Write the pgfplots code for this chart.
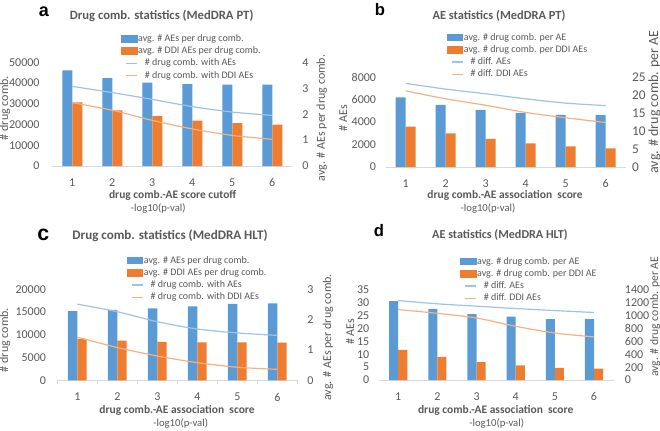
\documentclass[border=0pt]{standalone}
\usepackage{pgfplots}
\pgfplotsset{compat=1.18}
\usepackage{fontspec}
\setmainfont{Carlito}
\newfontfamily\letterfont{Liberation Sans}
\definecolor{cblue}{HTML}{5B9BD5}
\definecolor{corange}{HTML}{ED7D31}
\definecolor{lblue}{HTML}{9DC3E6}
\definecolor{lorange}{HTML}{F4B183}
\definecolor{txtgray}{HTML}{595959}
\definecolor{axgray}{HTML}{D9D9D9}
\pgfplotsset{
  base/.style={scale only axis, xmin=0.5, xmax=6.5, ymin=0,
    tick style={draw=none}, major tick length=0pt,
    tick label style={font=\fontsize{9}{10}\selectfont, text=txtgray},
    /pgf/number format/assume math mode=true, /pgf/number format/1000 sep={},
    scaled y ticks=false, y axis line style={draw=none}},
  leftax/.style={base, axis x line*=bottom, axis y line*=left,
    x axis line style={draw=axgray, line width=0.7pt}, xtick={1,2,3,4,5,6},
    x tick label style={yshift=-6pt}},
  rightax/.style={base, axis x line=none, axis y line*=right,
    legend cell align=left,
    legend style={anchor=north west, draw=none, fill=none, inner sep=0pt,
      font=\fontsize{7.5}{8.5}\selectfont, text=txtgray, row sep=0pt,
      nodes={inner sep=0.6pt, text height=6pt, text depth=2pt}}},
}
\newcommand\barimg[1]{\addlegendimage{legend image code/.code={\fill[#1] (0pt,-2.5pt) rectangle (11.5pt,2.5pt);}}}
\tikzset{
  ttl/.style={font=\bfseries\fontsize{9.5}{11}\selectfont, text=txtgray, anchor=base},
  xlab/.style={font=\bfseries\fontsize{8.6}{10}\selectfont, text=txtgray, anchor=base},
  loglab/.style={font=\fontsize{8}{10}\selectfont, text=txtgray, anchor=base},
  ylab/.style={font=\fontsize{9}{10}\selectfont, text=txtgray, rotate=90},
}
\begin{document}
\begin{tikzpicture}
\path[use as bounding box] (0pt,0pt) rectangle (495pt,322.5pt);

% ---------- panel a ----------
\begin{axis}[leftax, at={(39.2pt,198pt)}, anchor=south west, width=180pt, height=77.8pt,
  ymax=50000, ytick={0,10000,20000,30000,40000,50000}, y tick label style={xshift=-6pt}]
\addplot[ybar, bar width=7.5pt, bar shift=-3.75pt, fill=cblue, draw=none] coordinates {(1,46100) (2,42300) (3,40200) (4,39500) (5,39200) (6,39200)};
\addplot[ybar, bar width=7.5pt, bar shift=3.75pt, fill=corange, draw=none] coordinates {(1,30700) (2,26800) (3,24100) (4,21900) (5,20700) (6,19900)};
\end{axis}
\begin{axis}[rightax, at={(39.2pt,198pt)}, anchor=south west, width=180pt, height=77.8pt,
  ymax=4, ytick={0,1,2,3,4}, y tick label style={xshift=4pt}, legend style={at={(0.286,1.29)}}]
\barimg{cblue}\addlegendentry{avg. \# AEs per drug comb.}
\barimg{corange}\addlegendentry{avg. \# DDI AEs per drug comb.}
\addplot[lblue, line width=0.9pt, smooth, legend image code/.code={\draw[lblue,line width=0.9pt] (3.5pt,0pt)--(11.5pt,0pt);}] coordinates {(1,3.07) (2,2.83) (3,2.57) (4,2.29) (5,2.08) (6,1.95)};
\addlegendentry{\hspace{5pt}\# drug comb. with AEs}
\addplot[lorange, line width=0.9pt, smooth, legend image code/.code={\draw[lorange,line width=0.9pt] (3.5pt,0pt)--(11.5pt,0pt);}] coordinates {(1,2.44) (2,2.15) (3,1.76) (4,1.43) (5,1.18) (6,1.03)};
\addlegendentry{\hspace{5pt}\# drug comb. with DDI AEs}
\end{axis}

% ---------- panel b ----------
\begin{axis}[leftax, at={(289.3pt,197.25pt)}, anchor=south west, width=180pt, height=67.3pt,
  ymax=8000, ytick={0,2000,4000,6000,8000}, y tick label style={xshift=-3.75pt}]
\addplot[ybar, bar width=7.5pt, bar shift=-3.75pt, fill=cblue, draw=none] coordinates {(1,6200) (2,5540) (3,5100) (4,4830) (5,4650) (6,4620)};
\addplot[ybar, bar width=7.5pt, bar shift=3.75pt, fill=corange, draw=none] coordinates {(1,3600) (2,3000) (3,2500) (4,2100) (5,1850) (6,1650)};
\end{axis}
\begin{axis}[rightax, at={(289.3pt,197.25pt)}, anchor=south west, width=180pt, height=67.3pt,
  ymax=25, ytick={0,5,10,15,20,25}, tick label style={font=\fontsize{10}{12}\selectfont},
  y tick label style={xshift=1.2pt}, legend style={at={(0.254,1.516)}}]
\barimg{cblue}\addlegendentry{avg. \# drug comb. per AE}
\barimg{corange}\addlegendentry{avg. \# drug comb. per DDI AEs}
\addplot[lblue, line width=0.9pt, smooth, legend image code/.code={\draw[lblue,line width=0.9pt] (3.5pt,0pt)--(11.5pt,0pt);}] coordinates {(1,23.3) (2,21.7) (3,20.4) (4,19.0) (5,17.8) (6,17.1)};
\addlegendentry{\hspace{5pt}\# diff. AEs}
\addplot[lorange, line width=0.9pt, smooth, legend image code/.code={\draw[lorange,line width=0.9pt] (3.5pt,0pt)--(11.5pt,0pt);}] coordinates {(1,21.2) (2,19.0) (3,17.2) (4,15.2) (5,13.7) (6,12.4)};
\addlegendentry{\hspace{5pt}\# diff. DDI AEs}
\end{axis}

% ---------- panel c ----------
\begin{axis}[leftax, at={(43pt,37.3pt)}, anchor=south west, width=180pt, height=68.25pt,
  ymax=20000, ytick={0,5000,10000,15000,20000}, y tick label style={xshift=-5pt},
  extra x ticks={0.5,1.5,2.5,3.5,4.5,5.5,6.5}, extra x tick labels={},
  extra x tick style={major tick length=3pt, tick align=outside, tick style={draw=axgray, line width=0.6pt}}]
\addplot[ybar, bar width=7pt, bar shift=-3.5pt, fill=cblue, draw=none] coordinates {(1,15200) (2,15450) (3,15800) (4,16250) (5,16800) (6,16900)};
\addplot[ybar, bar width=7pt, bar shift=3.5pt, fill=corange, draw=none] coordinates {(1,9100) (2,8700) (3,8450) (4,8350) (5,8350) (6,8250)};
\end{axis}
\begin{axis}[rightax, at={(43pt,37.3pt)}, anchor=south west, width=180pt, height=68.25pt,
  ymax=3, ytick={0,1,2,3}, y tick label style={xshift=4pt}, legend style={at={(0.289,1.388)}}]
\barimg{cblue}\addlegendentry{avg. \# AEs per drug comb.}
\barimg{corange}\addlegendentry{avg. \# DDI AEs per drug comb.}
\addplot[lblue, line width=0.9pt, smooth, legend image code/.code={\draw[lblue,line width=0.9pt] (3.5pt,0pt)--(11.5pt,0pt);}] coordinates {(1,2.51) (2,2.26) (3,1.93) (4,1.69) (5,1.56) (6,1.48)};
\addlegendentry{\hspace{5pt}\# drug comb. with AEs}
\addplot[lorange, line width=0.9pt, smooth, legend image code/.code={\draw[lorange,line width=0.9pt] (3.5pt,0pt)--(11.5pt,0pt);}] coordinates {(1,1.42) (2,1.08) (3,0.80) (4,0.58) (5,0.43) (6,0.36)};
\addlegendentry{\hspace{5pt}\# drug comb. with DDI AEs}
\end{axis}

% ---------- panel d ----------
\begin{axis}[leftax, at={(284pt,37.5pt)}, anchor=south west, width=176.2pt, height=67.5pt,
  ymax=35, ytick={0,5,10,15,20,25,30,35}, y tick label style={xshift=-3.5pt}]
\addplot[ybar, bar width=6.8pt, bar shift=-3.4pt, fill=cblue, draw=none] coordinates {(1,30.7) (2,27.7) (3,25.6) (4,24.6) (5,23.7) (6,23.7)};
\addplot[ybar, bar width=6.8pt, bar shift=3.4pt, fill=corange, draw=none] coordinates {(1,11.7) (2,9.0) (3,7.0) (4,5.7) (5,4.7) (6,4.4)};
\end{axis}
\begin{axis}[rightax, at={(284pt,37.5pt)}, anchor=south west, width=176.2pt, height=67.5pt,
  ymax=1400, ytick={0,200,400,600,800,1000,1200,1400}, y tick label style={xshift=5pt},
  legend style={at={(0.346,1.389)}}]
\barimg{cblue}\addlegendentry{avg. \# drug comb. per AE}
\barimg{corange}\addlegendentry{avg. \# drug comb. per DDI AE}
\addplot[lblue, line width=0.9pt, smooth, legend image code/.code={\draw[lblue,line width=0.9pt] (3.5pt,0pt)--(11.5pt,0pt);}] coordinates {(1,1235) (2,1185) (3,1148) (4,1112) (5,1080) (6,1050)};
\addlegendentry{\hspace{5pt}\# diff. AEs}
\addplot[lorange, line width=0.9pt, smooth, legend image code/.code={\draw[lorange,line width=0.9pt] (3.5pt,0pt)--(11.5pt,0pt);}] coordinates {(1,1096) (2,1037) (3,964) (4,835) (5,731) (6,670)};
\addlegendentry{\hspace{5pt}\# diff. DDI AEs}
\end{axis}

% ---------- texts (px coordinates, origin top-left) ----------
\begin{scope}[shift={(0pt,322.5pt)}, x=0.75pt, y=-0.75pt]
\node[font=\letterfont\bfseries\fontsize{13.5}{14}\selectfont, anchor=base] at (44,16) {a};
\node[ttl] at (161.7,19) {Drug comb. statistics (MedDRA PT)};
\node[xlab] at (172.7,198.3) {drug comb.-AE score cutoff};
\node[loglab] at (158.3,211.7) {-log10(p-val)};
\node[ylab] at (5,108) {\# drug comb.};
\node[ylab] at (321.7,118) {avg. \# AEs per drug comb.};

\node[font=\letterfont\bfseries\fontsize{12.5}{14}\selectfont, anchor=base] at (380,15) {b};
\node[ttl, font=\bfseries\fontsize{9.3}{11}\selectfont] at (499,19.3) {AE statistics (MedDRA PT)};
\node[xlab] at (505,198.3) {drug comb.-AE association\ \ score};
\node[loglab] at (488,211) {-log10(p-val)};
\node[ylab] at (343,118) {\# AEs};
\node[ylab, font=\fontsize{10.5}{12}\selectfont, inner sep=0pt] at (654.5,102) {avg. \# drug comb. per AE};

\node[font=\letterfont\bfseries\fontsize{16}{17}\selectfont, anchor=base] at (43.3,240) {c};
\node[ttl, font=\bfseries\fontsize{9.8}{11}\selectfont] at (170,239) {Drug comb. statistics (MedDRA HLT)};
\node[xlab] at (177,413.3) {drug comb.-AE association\ \ score};
\node[loglab] at (180.7,426) {-log10(p-val)};
\node[ylab] at (5,340) {\# drug comb.};
\node[ylab] at (328,337.3) {avg. \# AEs per drug comb.};

\node[font=\letterfont\bfseries\fontsize{12.5}{14}\selectfont, anchor=base] at (379,236.7) {d};
\node[ttl, font=\bfseries\fontsize{9.1}{11}\selectfont] at (500,238.3) {AE statistics (MedDRA HLT)};
\node[xlab] at (495.7,413.3) {drug comb.-AE association\ \ score};
\node[loglab] at (496.7,426) {-log10(p-val)};
\node[ylab] at (350,331.7) {\# AEs};
\node[ylab, font=\fontsize{8.8}{10}\selectfont, inner sep=0pt] at (655,316.7) {avg. \# drug comb. per AE};
\end{scope}
\end{tikzpicture}
\end{document}
